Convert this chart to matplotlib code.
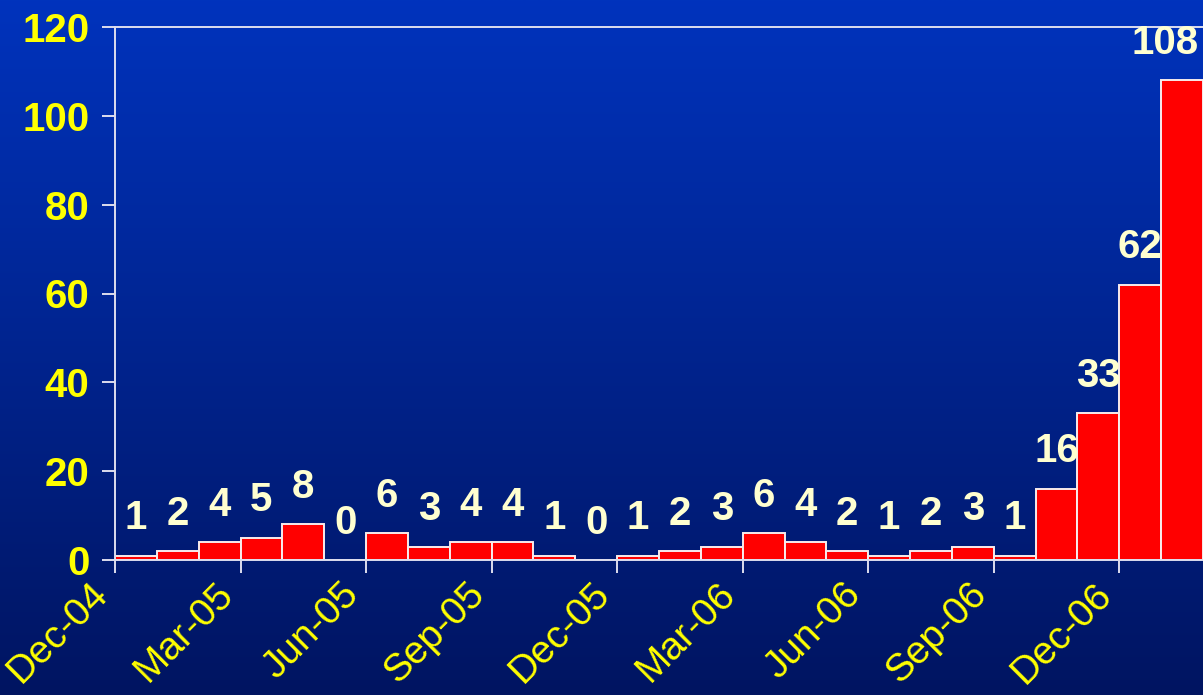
import matplotlib
matplotlib.use("Agg")
import matplotlib.pyplot as plt
import numpy as np

# monthly counts, Dec-04 .. Jan-07
months = ["Dec-04", "Jan-05", "Feb-05", "Mar-05", "Apr-05", "May-05", "Jun-05",
          "Jul-05", "Aug-05", "Sep-05", "Oct-05", "Nov-05", "Dec-05", "Jan-06",
          "Feb-06", "Mar-06", "Apr-06", "May-06", "Jun-06", "Jul-06", "Aug-06",
          "Sep-06", "Oct-06", "Nov-06", "Dec-06", "Jan-07"]
counts = [1, 2, 4, 5, 8, 0, 6, 3, 4, 4, 1, 0, 1, 2, 3, 6, 4, 2, 1, 2, 3, 1,
          16, 33, 62, 108]
yticks = [0, 20, 40, 60, 80, 100, 120]

C_BAR = "#FF0000"
C_EDGE = "#F8ECEC"
C_TICK = "#FFFF00"
C_VAL = "#FFFFD0"
C_AXIS = "#DDDDEE"

plt.rcParams["font.family"] = ["Liberation Sans", "DejaVu Sans"]

fig = plt.figure(figsize=(12.03, 6.95), dpi=100)

# gradient background
bg = fig.add_axes([0, 0, 1, 1], zorder=-10)
top = np.array([0.0, 0.20, 0.74])
bot = np.array([0.0, 0.08, 0.38])
t = np.linspace(0, 1, 256)[:, None]
grad = top * (1 - t) + bot * t
bg.imshow(grad[:, None, :].repeat(2, axis=1), aspect="auto", extent=[0, 1, 0, 1])
bg.axis("off")

ax = fig.add_axes([115 / 1203, 1 - 560 / 695, 1 - 115 / 1203, (560 - 27) / 695])
ax.patch.set_alpha(0)

x = np.arange(len(counts))
ax.bar(x, counts, width=1.0, align="edge", color=C_BAR, edgecolor=C_EDGE, linewidth=1.4)

n = len(counts)
for i, v in enumerate(counts):
    if i == n - 1:
        ax.annotate(str(v), (i + 1, v), textcoords="offset points", xytext=(-3, 27),
                    ha="right", va="center", fontsize=29, fontweight="bold", color=C_VAL)
    else:
        ax.annotate(str(v), (i + 0.5, v), textcoords="offset points", xytext=(0, 27),
                    ha="center", va="center", fontsize=29, fontweight="bold", color=C_VAL)

ax.set_xlim(0, n)
ax.set_ylim(0, 120)
ax.set_yticks(yticks)
ax.set_yticklabels([str(v) for v in yticks], fontsize=29, fontweight="bold", color=C_TICK)
ax.set_xticks(x[::3])
ax.set_xticklabels(months[::3], rotation=45, ha="right", va="top",
                   fontsize=28, color=C_TICK)

for s in ["left", "bottom", "top"]:
    ax.spines[s].set_color(C_AXIS)
    ax.spines[s].set_linewidth(1.4)
ax.spines["right"].set_visible(False)
ax.tick_params(axis="both", direction="out", length=9.5, width=1.4, color=C_AXIS)
ax.tick_params(axis="y", pad=9)
ax.tick_params(axis="x", pad=2)

fig.savefig("out.png", dpi=100)
